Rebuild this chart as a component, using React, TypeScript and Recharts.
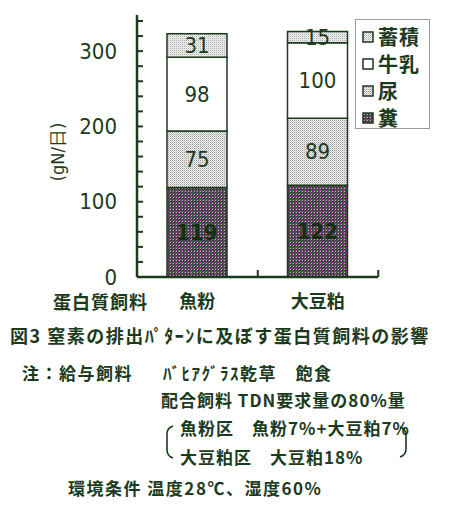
import { BarChart, Bar, XAxis, YAxis, LabelList } from 'recharts';

const categories = ['魚粉', '大豆粕'];
const feces = [119, 122];
const urine = [75, 89];
const milk = [98, 100];
const storage = [31, 15];
const yTicks = [0, 20, 40, 60, 80, 100, 120, 140, 160, 180, 200, 220, 240, 260, 280, 300, 320, 340];
const yLabels = [0, 100, 200, 300];

const legendItems = [
  { name: '蓄積', fill: 'url(#storagePat)' },
  { name: '牛乳', fill: '#ffffff' },
  { name: '尿', fill: 'url(#urinePat)' },
  { name: '糞', fill: 'url(#fecesPat)' },
];

const data = categories.map((name, i) => ({
  name,
  feces: feces[i],
  urine: urine[i],
  milk: milk[i],
  storage: storage[i],
}));

const INK = '#1c3a1c';
const NUM_FONT = "'DejaVu Sans', sans-serif";
const JP_FONT = "'Noto Sans CJK JP', 'Noto Sans', sans-serif";

function YTick(props: any) {
  const { x, y, payload } = props;
  const major = yLabels.includes(payload.value);
  return (
    <g>
      <line x1={x} y1={y} x2={x + 6} y2={y} stroke={INK} strokeWidth={2} />
      {major && (
        <text
          x={x - 20}
          y={y}
          textAnchor="end"
          dominantBaseline="central"
          fill={INK}
          fontFamily={NUM_FONT}
          fontStretch="condensed"
          fontSize={22}
        >
          {payload.value}
        </text>
      )}
    </g>
  );
}

function XTick(props: any) {
  const { x, y, payload } = props;
  return (
    <g>
      <line x1={x + 60.5} y1={y} x2={x + 60.5} y2={y - 7} stroke={INK} strokeWidth={2} />
      <text
        x={x}
        y={y + 23}
        textAnchor="middle"
        dominantBaseline="central"
        fill={INK}
        fontFamily={JP_FONT}
        fontWeight="bold"
        fontSize={18}
      >
        {payload.value}
      </text>
    </g>
  );
}

function LegendBox() {
  return (
    <div
      style={{
        position: 'absolute',
        left: 355,
        top: 19,
        width: 75,
        height: 110,
        border: '1px solid #9a9a9a',
        background: '#fff',
        boxSizing: 'border-box',
        padding: '3px 0 0 6px',
      }}
    >
      {legendItems.map((item) => (
        <div key={item.name} style={{ display: 'flex', alignItems: 'center', height: 27 }}>
          <svg width={12} height={12} style={{ marginRight: 4 }}>
            <rect x={1} y={1} width={10} height={10} fill={item.fill} stroke={INK} strokeWidth={1.5} />
          </svg>
          <span
            style={{
              fontFamily: JP_FONT,
              fontWeight: 'bold',
              fontSize: 20,
              color: INK,
              lineHeight: 1,
              letterSpacing: 1,
            }}
          >
            {item.name}
          </span>
        </div>
      ))}
    </div>
  );
}

const note = (text: string, left: number, top: number, size = 17, spacing = 1.5) => (
  <div
    style={{
      position: 'absolute',
      left,
      top,
      whiteSpace: 'nowrap',
      fontFamily: JP_FONT,
      fontWeight: 'bold',
      fontSize: size,
      lineHeight: 1,
      letterSpacing: spacing,
      color: INK,
    }}
  >
    {text}
  </div>
);

export default function App() {
  return (
    <div style={{ position: 'absolute', left: 0, top: 0, width: 463, height: 514, background: '#fff' }}>
      <BarChart
        width={463}
        height={320}
        data={data}
        margin={{ top: 15, right: 85, bottom: 0, left: 0 }}
      >
        <defs>
          <pattern id="fecesPat" width={3} height={3} patternUnits="userSpaceOnUse">
            <rect width={3} height={3} fill="#8e3e8e" />
            <rect x={0} y={0} width={1} height={1} fill="#1f4a1f" />
            <rect x={2} y={0} width={1} height={1} fill="#1f4a1f" />
            <rect x={1} y={1} width={1} height={1} fill="#1f4a1f" />
            <rect x={0} y={2} width={1} height={1} fill="#1f4a1f" />
            <rect x={2} y={2} width={1} height={1} fill="#c8b8c8" />
          </pattern>
          <pattern id="urinePat" width={2} height={2} patternUnits="userSpaceOnUse">
            <rect width={2} height={2} fill="#f2f2f2" />
            <rect x={0} y={0} width={1} height={1} fill="#9a9a9a" />
            <rect x={1} y={1} width={1} height={1} fill="#c8c8c8" />
          </pattern>
          <pattern id="storagePat" width={2} height={2} patternUnits="userSpaceOnUse">
            <rect width={2} height={2} fill="#f6f6f6" />
            <rect x={0} y={0} width={1} height={1} fill="#a8a8a8" />
            <rect x={1} y={1} width={1} height={1} fill="#d8d8d8" />
          </pattern>
        </defs>
        <XAxis
          dataKey="name"
          height={43}
          axisLine={{ stroke: INK, strokeWidth: 2.5 }}
          tickLine={false}
          tickSize={0}
          tickMargin={0}
          tick={<XTick />}
          interval={0}
        />
        <YAxis
          width={137}
          domain={[0, 348]}
          ticks={yTicks}
          interval={0}
          axisLine={{ stroke: INK, strokeWidth: 2.5 }}
          tickLine={false}
          tickSize={0}
          tickMargin={0}
          tick={<YTick />}
        />
        <Bar dataKey="feces" name="糞" stackId="a" barSize={60} fill="url(#fecesPat)" stroke={INK} strokeWidth={1.5} isAnimationActive={false}>
          <LabelList dataKey="feces" position="center" fill="#10300f" fontFamily={NUM_FONT} fontStretch="condensed" fontWeight="bold" fontSize={22} />
        </Bar>
        <Bar dataKey="urine" name="尿" stackId="a" barSize={60} fill="url(#urinePat)" stroke={INK} strokeWidth={1.5} isAnimationActive={false}>
          <LabelList dataKey="urine" position="center" fill={INK} fontFamily={NUM_FONT} fontStretch="condensed" fontSize={22} />
        </Bar>
        <Bar dataKey="milk" name="牛乳" stackId="a" barSize={60} fill="#ffffff" stroke={INK} strokeWidth={1.5} isAnimationActive={false}>
          <LabelList dataKey="milk" position="center" fill={INK} fontFamily={NUM_FONT} fontStretch="condensed" fontSize={22} />
        </Bar>
        <Bar dataKey="storage" name="蓄積" stackId="a" barSize={60} fill="url(#storagePat)" stroke={INK} strokeWidth={1.5} isAnimationActive={false}>
          <LabelList dataKey="storage" position="center" fill={INK} fontFamily={NUM_FONT} fontStretch="condensed" fontSize={22} />
        </Bar>
      </BarChart>

      <LegendBox />

      <div
        style={{
          position: 'absolute',
          left: 58,
          top: 152,
          transform: 'translate(-50%, -50%) rotate(-90deg)',
          whiteSpace: 'nowrap',
          fontFamily: NUM_FONT,
          fontStretch: 'condensed',
          fontSize: 18,
          lineHeight: 1,
          color: INK,
        }}
      >
        (gN/日)
      </div>

      {note('蛋白質飼料', 53, 292, 18, 1)}
      {note('図3 窒素の排出ﾊﾟﾀｰﾝに及ぼす蛋白質飼料の影響', 10, 326, 18, 1.5)}
      {note('注：給与飼料', 22, 364)}
      {note('ﾊﾞﾋｱｸﾞﾗｽ乾草　飽食', 163, 364)}
      {note('配合飼料 TDN要求量の80%量', 161, 391, 17, 1)}
      {note('魚粉区　魚粉7%+大豆粕7%', 180, 419, 17, 1)}
      {note('大豆粕区　大豆粕18%', 180, 448, 17, 1)}
      {note('環境条件 温度28℃、湿度60%', 68, 479, 17, 1.5)}

      <svg
        width={463}
        height={514}
        style={{ position: 'absolute', left: 0, top: 0, pointerEvents: 'none' }}
      >
        <path d="M173 426 Q167 428 167 434 L167 450 Q167 456 173 458" fill="none" stroke={INK} strokeWidth={1.6} />
        <path d="M400 427 Q406 429 406 435 L406 449 Q406 455 400 457" fill="none" stroke={INK} strokeWidth={1.6} />
      </svg>
    </div>
  );
}
